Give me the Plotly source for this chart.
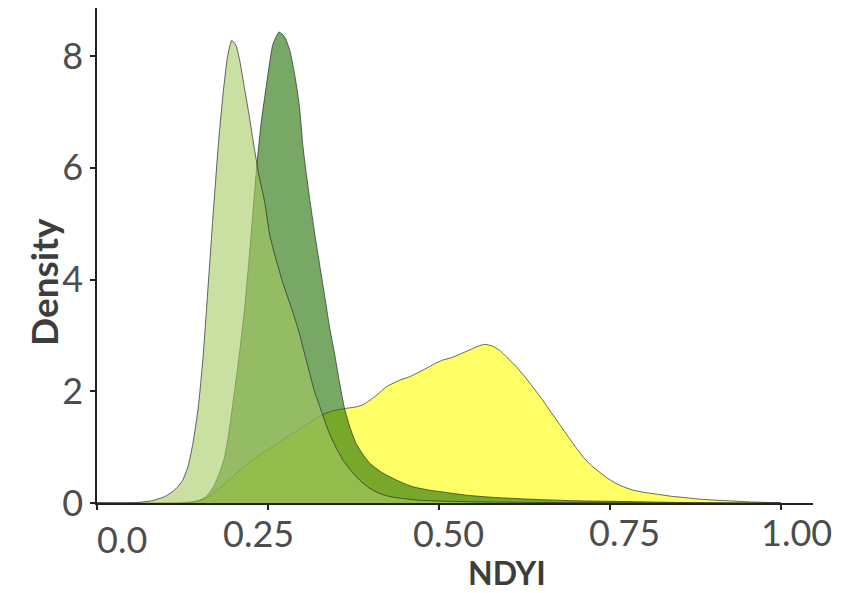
import plotly.graph_objects as go

# Series: light green (A), dark green (B), yellow (C)
a_x = [0.0, 0.04, 0.06, 0.08, 0.10, 0.115, 0.125, 0.133, 0.140, 0.148, 0.155, 0.162, 0.170, 0.178, 0.185, 0.191, 0.197,
       0.203, 0.209, 0.216, 0.223, 0.230, 0.237, 0.245, 0.2525, 0.262, 0.272, 0.287, 0.296, 0.304, 0.311, 0.318, 0.326,
       0.333, 0.340, 0.350, 0.360, 0.372, 0.384, 0.398, 0.413, 0.43, 0.447, 0.47, 0.5, 0.55, 0.65, 0.75, 0.9, 1.0]
a_y = [0.0, 0.0, 0.01, 0.04, 0.12, 0.25, 0.40, 0.65, 1.05, 1.7, 2.6, 3.8, 5.2, 6.5, 7.4, 8.0, 8.28,
       8.2, 7.9, 7.4, 6.9, 6.35, 5.85, 5.4, 4.8, 4.35, 3.93, 3.39, 3.03, 2.65, 2.32, 2.0, 1.72,
       1.47, 1.24, 0.98, 0.76, 0.57, 0.41, 0.27, 0.17, 0.11, 0.08, 0.05, 0.035, 0.02, 0.01, 0.005, 0.0, 0.0]

b_x = [0.0, 0.12, 0.14, 0.15, 0.16, 0.170, 0.178, 0.185, 0.19, 0.195, 0.2, 0.205, 0.21, 0.216, 0.223, 0.228, 0.233,
       0.240, 0.248, 0.257, 0.266, 0.274, 0.282, 0.290, 0.296, 0.301, 0.306, 0.311, 0.318, 0.326, 0.333, 0.340,
       0.347, 0.354, 0.362, 0.370, 0.379, 0.390, 0.399, 0.416, 0.433, 0.447, 0.462, 0.486, 0.51,
       0.54, 0.58, 0.613, 0.65, 0.7, 0.75, 0.8, 0.85, 0.9, 0.95, 1.0]
b_y = [0.0, 0.0, 0.02, 0.05, 0.12, 0.28, 0.5, 0.75, 1.05, 1.45, 1.9, 2.35, 2.85, 3.5, 4.45, 5.2, 5.95,
       6.8, 7.5, 8.2, 8.43, 8.35, 8.1, 7.6, 7.1, 6.4, 5.9, 5.45, 4.85, 4.23, 3.7, 3.15,
       2.7, 2.2, 1.69, 1.35, 1.06, 0.85, 0.71, 0.55, 0.44, 0.36, 0.29, 0.23, 0.19,
       0.14, 0.10, 0.08, 0.06, 0.04, 0.03, 0.02, 0.01, 0.005, 0.0, 0.0]

c_x = [0.0, 0.12, 0.14, 0.155, 0.17, 0.185, 0.204, 0.22, 0.24, 0.2525, 0.28, 0.30, 0.316, 0.333, 0.345, 0.362, 0.379,
       0.389, 0.399, 0.41, 0.423, 0.443, 0.457, 0.472, 0.486, 0.495, 0.506, 0.518, 0.530, 0.545, 0.556, 0.567,
       0.578, 0.589, 0.60, 0.613, 0.625, 0.637, 0.650, 0.662, 0.674, 0.686, 0.70, 0.711, 0.723, 0.735, 0.747,
       0.759, 0.772, 0.784, 0.80, 0.823, 0.84, 0.857, 0.88, 0.906, 0.93, 0.954, 0.98, 1.0]
c_y = [0.0, 0.0, 0.02, 0.06, 0.17, 0.33, 0.53, 0.7, 0.88, 0.97, 1.2, 1.35, 1.48, 1.6, 1.65, 1.69, 1.72,
       1.76, 1.84, 1.94, 2.08, 2.2, 2.26, 2.35, 2.44, 2.5, 2.56, 2.6, 2.66, 2.74, 2.8, 2.84,
       2.81, 2.73, 2.6, 2.44, 2.27, 2.08, 1.87, 1.66, 1.45, 1.24, 1.0, 0.82, 0.67, 0.55, 0.44,
       0.35, 0.28, 0.23, 0.19, 0.15, 0.12, 0.1, 0.07, 0.05, 0.035, 0.02, 0.01, 0.005]

x_ticks = [0.0, 0.25, 0.5, 0.75, 1.0]
x_tick_text = ["0.0", "0.25", "0.50", "0.75", "1.00"]
y_ticks = [0, 2, 4, 6, 8]

series = [
    (c_x, c_y, "rgba(255,255,0,0.6)"),
    (b_x, b_y, "rgba(30,110,0,0.6)"),
    (a_x, a_y, "rgba(167,202,100,0.6)"),
]

fig = go.Figure()
for xs, ys, col in series:
    fig.add_trace(go.Scatter(
        x=xs, y=ys, mode="lines", fill="tozeroy", fillcolor=col,
        line=dict(color="rgba(40,40,40,0.7)", width=1, shape="spline", smoothing=0.5),
        showlegend=False, hoverinfo="skip"))

font_family = "Lato, 'Open Sans', sans-serif"
text_col = "#4d4d4d"

# x tick labels as annotations (reference labels sit slightly off their ticks)
label_xshift = [25, -9, 10, 15, 16]
label_yshift = [-36, -30, -30, -29, -29]
for v, t, dx, dy in zip(x_ticks, x_tick_text, label_xshift, label_yshift):
    fig.add_annotation(x=v, y=0, xref="x", yref="paper", text=t, showarrow=False,
                       xanchor="center", yanchor="middle", xshift=dx, yshift=dy,
                       font=dict(size=36, color=text_col, family=font_family))

# axis titles
fig.add_annotation(x=0.5726, y=-0.141, xref="paper", yref="paper", text="<b>NDYI</b>",
                   showarrow=False, xanchor="center", yanchor="middle",
                   font=dict(size=32, color="#3d3d3d", family=font_family))
fig.add_annotation(x=-0.074, y=0.4465, xref="paper", yref="paper", text="<b>Density</b>",
                   showarrow=False, xanchor="center", yanchor="middle", textangle=-90,
                   font=dict(size=37, color="#3d3d3d", family=font_family))

fig.update_layout(
    width=848, height=585,
    margin=dict(l=89, r=43, t=0, b=90, autoexpand=False),
    plot_bgcolor="white", paper_bgcolor="white",
    font=dict(family=font_family, color=text_col),
)
fig.update_xaxes(
    range=[0, 1.047], tickvals=x_ticks, showticklabels=False, automargin=False,
    showgrid=False, zeroline=False, showline=True, linecolor="#222", linewidth=1.5,
    ticks="outside", ticklen=5, tickcolor="#222", tickwidth=1.5,
)
fig.update_yaxes(
    range=[0, 8.86], tickvals=y_ticks, automargin=False,
    showgrid=False, zeroline=False, showline=True, linecolor="#222", linewidth=1.5,
    ticks="outside", ticklen=5, tickcolor="#222", tickwidth=1.5, ticklabelstandoff=0,
    tickfont=dict(size=36, color=text_col),
)
fig.write_html("out.html")
